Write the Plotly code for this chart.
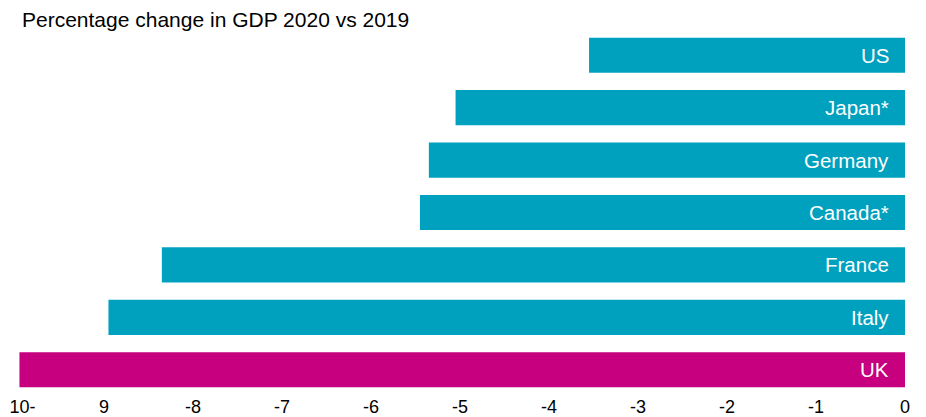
import plotly.graph_objects as go

countries = ["US", "Japan*", "Germany", "Canada*", "France", "Italy", "UK"]
gdp_change = [-3.55, -5.05, -5.35, -5.45, -8.35, -8.95, -9.95]
bar_colors = ["#00A1BE"] * 6 + ["#C6007E"]
tick_vals = [-10, -9, -8, -7, -6, -5, -4, -3, -2, -1, 0]
tick_text = ["10-", "9", "-8", "-7", "-6", "-5", "-4", "-3", "-2", "-1", "0"]
title_text = "Percentage change in GDP 2020 vs 2019"

W, H = 918, 409

# pad the leftmost label with invisible spaces so it stays inside the page
shown_ticks = ["\u00a0\u00a0\u00a0" + tick_text[0]] + tick_text[1:]

fig = go.Figure(go.Bar(
    x=gdp_change, y=countries, orientation="h",
    marker=dict(color=bar_colors, line=dict(width=0)),
    hoverinfo="x+y",
))

for c, v in zip(countries, gdp_change):
    fig.add_annotation(x=0, y=c, text=c, showarrow=False, xanchor="right",
                       xshift=-14, font=dict(color="white", size=20.5,
                                              family="Liberation Sans, Arial"))

fig.update_layout(
    width=W, height=H,
    margin=dict(l=7, r=21, t=21, b=21),
    plot_bgcolor="white", paper_bgcolor="white",
    bargap=0.33, showlegend=False,
    font=dict(family="Liberation Sans, Arial", color="black"),
    title=dict(text=title_text, x=14 / W, xref="container", xanchor="left",
               y=1 - 12 / H, yref="container", yanchor="middle",
               font=dict(size=21, color="black")),
    xaxis=dict(range=[-10, 0], tickvals=tick_vals, ticktext=shown_ticks,
               showgrid=False, zeroline=False, showline=False, ticks="",
               tickfont=dict(size=18), automargin=False,
               ticklabeloverflow="allow", ticklabelstandoff=-2),
    yaxis=dict(autorange="reversed", showticklabels=False, showgrid=False,
               zeroline=False, showline=False, ticks="", automargin=False),
)

fig.write_html("out.html")
